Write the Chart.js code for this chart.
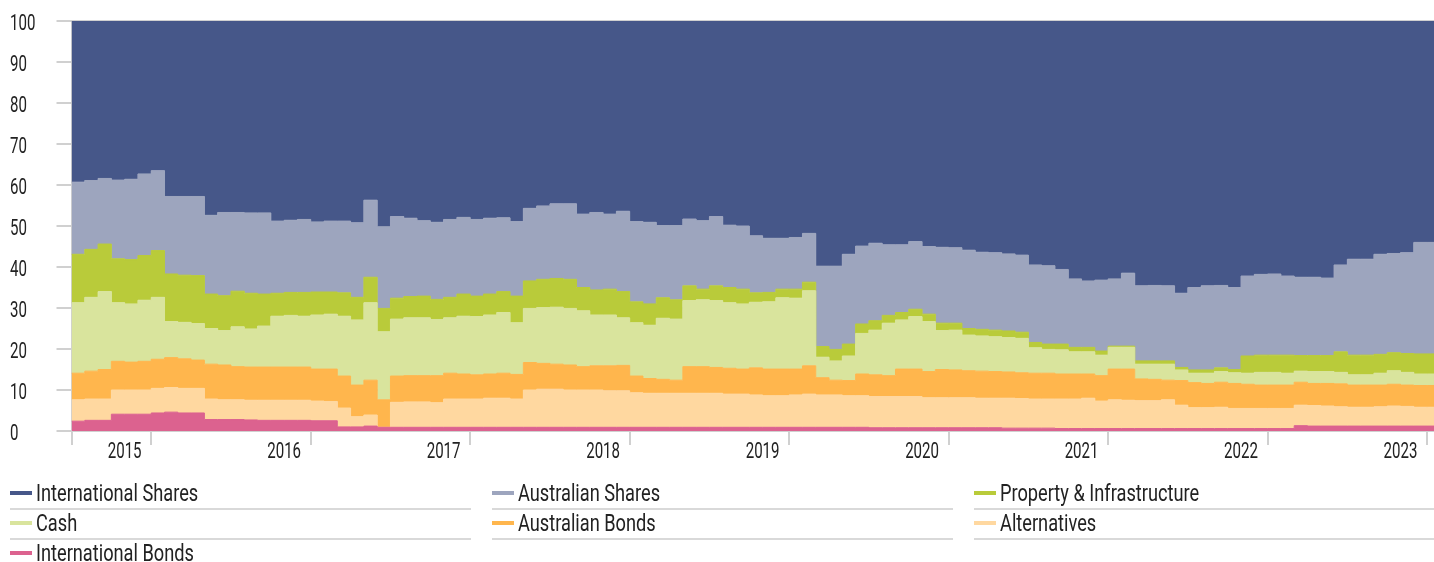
<!DOCTYPE html>
<html>
<head>
<meta charset="utf-8">
<title>Asset allocation over time</title>
<script src="https://cdn.jsdelivr.net/npm/chart.js@4.4.1/dist/chart.umd.min.js"></script>
<style>
  html, body { margin: 0; padding: 0; background: #ffffff; }
  body { width: 1434px; height: 562px; position: relative; overflow: hidden; font-family: Roboto, "Noto Sans", sans-serif; }
  #wrap { position: absolute; left: 0; top: 0; width: 1434px; height: 470px; }
  #legend { position: absolute; left: 0; top: 0; width: 1434px; height: 562px; pointer-events: none; }
  .item { position: absolute; height: 30px; }
  .sw { position: absolute; left: 0; top: 11px; width: 22px; height: 4px; }
  .txt { position: absolute; left: 26px; top: 2px; white-space: nowrap; font-size: 23.5px; line-height: 1; color: #222222;
         transform: scaleX(0.775); transform-origin: 0 0; }
  .rule { position: absolute; left: 0; top: 28px; height: 2px; width: 461px; background: #d9d9d9; }
</style>
</head>
<body>
<div id="wrap"><canvas id="chart" width="1434" height="470"></canvas></div>
<div id="legend"></div>
<script>
// Monthly portfolio weights (%), one value per month, stacked from the bottom up.
const internationalBonds = [
  2.4, 2.6, 2.6, 4.1, 4.1, 4.1, 4.4, 4.6, 4.4, 4.4,
  2.8, 2.8, 2.8, 2.7, 2.6, 2.6, 2.6, 2.6, 2.5, 2.5,
  1.0, 1.0, 1.2, 0.9, 0.9, 0.9, 0.9, 0.9, 0.9, 0.9,
  0.9, 0.9, 0.9, 0.9, 0.9, 0.9, 0.9, 0.9, 0.9, 0.9,
  0.9, 0.9, 0.9, 0.9, 0.9, 0.9, 0.9, 0.9, 0.9, 0.9,
  0.9, 0.9, 0.9, 0.9, 0.9, 0.9, 0.9, 0.9, 0.9, 0.9,
  0.8, 0.8, 0.8, 0.8, 0.8, 0.8, 0.8, 0.8, 0.8, 0.8,
  0.7, 0.7, 0.7, 0.7, 0.6, 0.6, 0.6, 0.6, 0.6, 0.6,
  0.6, 0.6, 0.6, 0.6, 0.6, 0.6, 0.6, 0.6, 0.6, 0.6,
  0.6, 0.6, 1.3, 1.2, 1.2, 1.2, 1.2, 1.2, 1.2, 1.2,
  1.2, 1.2, 1.2
];
const alternatives = [
  5.2, 5.2, 5.2, 5.9, 5.9, 5.9, 6.0, 6.0, 6.0, 6.0,
  5.0, 4.8, 4.8, 4.8, 4.9, 4.9, 4.9, 4.9, 4.8, 4.7,
  4.6, 2.5, 2.7, 0.0, 6.1, 6.2, 6.2, 6.0, 6.9, 6.9,
  6.9, 7.1, 7.1, 6.9, 9.1, 9.3, 9.3, 9.1, 9.1, 9.1,
  8.9, 8.9, 8.4, 8.3, 8.3, 8.3, 8.3, 8.3, 8.3, 8.1,
  8.1, 7.9, 7.7, 7.7, 7.9, 8.1, 7.9, 7.9, 7.7, 7.7,
  7.6, 7.6, 7.6, 7.6, 7.3, 7.3, 7.3, 7.3, 7.2, 7.2,
  7.3, 7.2, 7.1, 7.1, 7.2, 7.2, 7.4, 6.7, 7.0, 6.9,
  6.8, 6.8, 7.0, 5.7, 5.1, 5.1, 5.2, 4.9, 4.9, 4.9,
  4.9, 4.9, 5.0, 5.0, 4.9, 4.7, 4.6, 4.6, 4.7, 4.9,
  4.8, 4.6, 4.6
];
const australianBonds = [
  6.5, 6.8, 7.2, 7.0, 6.8, 7.0, 7.1, 7.3, 7.2, 6.9,
  8.5, 8.5, 8.1, 8.1, 8.1, 8.1, 8.1, 8.1, 7.8, 7.9,
  7.8, 7.7, 8.5, 6.7, 6.4, 6.4, 6.4, 6.6, 6.3, 6.1,
  5.9, 5.9, 6.1, 6.0, 6.7, 6.3, 6.1, 6.1, 5.7, 5.9,
  6.1, 6.2, 4.1, 3.6, 3.4, 3.2, 6.5, 6.5, 6.3, 6.3,
  6.1, 6.6, 6.5, 6.5, 6.3, 6.9, 4.2, 3.6, 3.7, 5.3,
  5.3, 5.1, 6.7, 6.7, 6.4, 6.9, 6.8, 6.6, 6.6, 6.5,
  6.4, 6.3, 6.3, 6.3, 6.1, 6.1, 5.9, 6.2, 7.5, 7.6,
  5.3, 5.2, 4.8, 6.0, 6.1, 5.9, 6.1, 6.1, 5.9, 5.7,
  5.7, 5.7, 5.6, 5.4, 5.5, 5.6, 5.4, 5.4, 5.3, 5.3,
  5.2, 5.3, 5.3
];
const cash = [
  17.2, 18.0, 19.0, 14.3, 14.2, 14.9, 15.1, 8.8, 8.9, 8.9,
  8.7, 8.4, 9.7, 9.3, 10.0, 12.4, 12.6, 12.4, 13.2, 13.4,
  14.6, 15.9, 18.9, 16.6, 13.9, 14.1, 14.1, 13.7, 13.5, 14.1,
  14.2, 14.4, 14.8, 12.6, 13.2, 13.6, 13.9, 13.8, 13.6, 12.4,
  12.4, 11.6, 13.0, 13.0, 14.9, 14.9, 16.1, 16.3, 16.3, 16.0,
  15.9, 16.0, 16.4, 17.4, 17.3, 18.3, 5.0, 4.7, 6.0, 9.9,
  10.9, 12.8, 12.0, 12.8, 12.2, 9.5, 9.7, 8.7, 8.6, 8.5,
  8.4, 8.4, 6.2, 5.8, 5.9, 5.4, 5.4, 5.0, 5.3, 5.3,
  3.6, 3.7, 3.9, 2.6, 2.3, 2.5, 2.6, 2.6, 2.7, 3.1,
  3.1, 2.9, 2.7, 2.9, 2.9, 2.8, 2.5, 2.5, 2.9, 3.3,
  3.1, 2.8, 2.8
];
const propertyInfrastructure = [
  11.8, 11.7, 11.6, 10.7, 10.8, 10.9, 11.4, 11.6, 11.5, 11.7,
  8.4, 8.5, 8.7, 8.7, 7.8, 5.6, 5.6, 5.8, 5.6, 5.4,
  5.7, 5.5, 6.2, 5.7, 5.1, 5.2, 5.3, 4.9, 5.0, 5.4,
  5.0, 5.1, 5.1, 6.5, 6.7, 6.9, 7.0, 7.1, 5.7, 6.1,
  6.3, 6.4, 5.1, 5.2, 5.0, 4.7, 3.6, 2.6, 3.6, 3.7,
  3.6, 2.3, 2.3, 2.1, 2.2, 2.1, 2.6, 2.8, 2.9, 2.3,
  2.3, 1.9, 1.8, 1.8, 1.8, 1.8, 1.7, 1.6, 1.6, 1.6,
  1.6, 1.5, 1.3, 1.3, 1.4, 1.1, 1.1, 1.0, 0.3, 0.3,
  0.8, 0.8, 0.8, 0.6, 0.8, 0.8, 0.9, 0.8, 4.2, 4.2,
  4.2, 4.4, 3.8, 3.9, 3.9, 5.0, 4.8, 4.8, 4.6, 4.4,
  4.6, 4.9, 4.9
];
const australianShares = [
  17.6, 16.8, 16.0, 19.2, 19.6, 19.9, 19.5, 18.9, 19.2, 19.3,
  19.2, 20.3, 19.2, 19.6, 19.8, 17.6, 17.6, 17.8, 17.1, 17.3,
  17.5, 18.2, 18.8, 19.9, 19.9, 19.1, 18.4, 18.8, 19.0, 18.7,
  18.7, 18.5, 18.0, 18.2, 17.7, 17.9, 18.2, 18.4, 17.9, 18.9,
  18.3, 19.6, 19.6, 19.9, 17.6, 18.1, 16.3, 16.7, 16.9, 15.2,
  15.4, 13.9, 13.2, 12.4, 12.6, 11.9, 19.6, 20.3, 21.9, 19.0,
  18.9, 17.2, 16.5, 16.5, 16.5, 18.5, 18.4, 19.1, 18.8, 18.9,
  18.8, 18.8, 18.9, 19.1, 18.2, 16.7, 16.2, 17.3, 16.4, 17.8,
  18.3, 18.4, 18.3, 18.1, 20.1, 20.5, 20.1, 20.0, 19.5, 19.7,
  19.8, 19.3, 19.1, 19.1, 18.9, 21.2, 23.4, 23.4, 24.4, 24.2,
  24.6, 27.2, 27.2
];
const internationalShares = [
  39.3, 38.9, 38.4, 38.8, 38.6, 37.3, 36.5, 42.8, 42.8, 42.8,
  47.4, 46.7, 46.7, 46.8, 46.8, 48.8, 48.6, 48.4, 49.0, 48.8,
  48.8, 49.2, 43.7, 50.2, 47.7, 48.1, 48.7, 49.1, 48.4, 47.9,
  48.4, 48.1, 48.0, 48.9, 45.7, 45.1, 44.6, 44.6, 47.1, 46.7,
  47.1, 46.4, 48.9, 49.1, 49.9, 49.9, 48.3, 48.7, 47.7, 49.8,
  50.0, 52.4, 53.0, 53.0, 52.8, 51.8, 59.8, 59.8, 56.9, 54.9,
  54.2, 54.6, 54.6, 53.8, 55.0, 55.2, 55.3, 55.9, 56.4, 56.5,
  56.8, 57.1, 59.5, 59.7, 60.6, 62.9, 63.4, 63.2, 62.9, 61.5,
  64.6, 64.5, 64.6, 66.4, 65.0, 64.6, 64.5, 65.0, 62.2, 61.8,
  61.7, 62.2, 62.5, 62.5, 62.7, 59.5, 58.1, 58.1, 56.9, 56.7,
  56.5, 54.0, 54.0
];

// Asset class names, bottom of the stack first
const assetNames = [
  'International Bonds', 'Alternatives', 'Australian Bonds', 'Cash',
  'Property & Infrastructure', 'Australian Shares', 'International Shares'
];
const yearLabels = ['2015', '2016', '2017', '2018', '2019', '2020', '2021', '2022', '2023'];
const valueTicks = [0, 10, 20, 30, 40, 50, 60, 70, 80, 90, 100];

// Styling
const palette = ['#dc628f', '#ffd8a0', '#ffb64d', '#d9e49d', '#b9cb3a', '#9da5be', '#465789'];
const GRID = '#d0d0d0';
const TEXT = '#222222';
const TICK_FONT_SIZE = 21.5;
const TICK_SQUEEZE = 0.70;

const seriesValues = [internationalBonds, alternatives, australianBonds, cash,
  propertyInfrastructure, australianShares, internationalShares];

// Month index axis: year boundaries every 12 months, first one six months in
const firstBoundary = 6;
const boundaryTicks = [0];
yearLabels.forEach((_, k) => boundaryTicks.push(firstBoundary + 12 * k));
const labelTicks = yearLabels.map((_, k) => firstBoundary - 2 + 12 * k);
const boundarySet = new Set(boundaryTicks);

const datasets = seriesValues.map((vals, k) => {
  const pts = vals.map((v, i) => ({ x: i, y: v }));
  // close the final month's step
  pts.push({ x: vals.length, y: vals[vals.length - 1] });
  return {
    label: assetNames[k],
    data: pts,
    backgroundColor: palette[k],
    borderColor: palette[k],
    borderWidth: 1,
    fill: k === 0 ? 'origin' : '-1',
    stepped: true,
    tension: 0,
    pointRadius: 0,
    pointHoverRadius: 0
  };
});

function drawSqueezed(ctx, text, px, py, align) {
  ctx.save();
  ctx.translate(px, py);
  ctx.scale(TICK_SQUEEZE, 1);
  ctx.textAlign = align;
  ctx.fillText(text, 0, 0);
  ctx.restore();
}

// Tick labels in a narrow face, positioned from the chart's own scales
const axisText = {
  id: 'axisText',
  afterDraw(chart) {
    const { ctx, scales: { x, y }, chartArea } = chart;
    ctx.save();
    ctx.fillStyle = TEXT;
    ctx.font = TICK_FONT_SIZE + 'px Roboto, "Noto Sans", sans-serif';
    ctx.textBaseline = 'alphabetic';
    y.ticks.forEach(t => {
      drawSqueezed(ctx, String(t.value), 10, y.getPixelForValue(t.value) + 8.5, 'left');
    });
    x.ticks.forEach(t => {
      const k = labelTicks.indexOf(t.value);
      if (k >= 0) drawSqueezed(ctx, yearLabels[k], x.getPixelForValue(t.value), chartArea.bottom + 27, 'center');
    });
    ctx.restore();
  }
};

new Chart(document.getElementById('chart'), {
  type: 'line',
  data: { datasets },
  plugins: [axisText],
  options: {
    responsive: false,
    animation: false,
    events: [],
    layout: { padding: { left: 10, top: 21, right: 0, bottom: 0 } },
    plugins: { legend: { display: false }, tooltip: { enabled: false } },
    scales: {
      x: {
        type: 'linear',
        min: 0,
        max: 102.52,
        z: 1,
        afterBuildTicks: sc => {
          sc.ticks = boundaryTicks.concat(labelTicks).sort((a, b) => a - b).map(v => ({ value: v }));
        },
        afterFit: sc => { sc.height = 39; },
        ticks: { display: false },
        grid: {
          color: c => (c.tick && boundarySet.has(c.tick.value)) ? GRID : 'rgba(0,0,0,0)',
          lineWidth: 2,
          tickLength: 14,
          drawTicks: true
        },
        border: { display: false }
      },
      y: {
        stacked: true,
        min: 0,
        max: 100,
        z: 1,
        afterBuildTicks: sc => { sc.ticks = valueTicks.map(v => ({ value: v })); },
        afterFit: sc => { sc.width = 61.5; },
        ticks: { display: false },
        grid: { color: GRID, lineWidth: 2, tickLength: 15, drawTicks: true },
        border: { display: false }
      }
    }
  }
});

// Legend: three columns, top of the stack first, each entry underlined
const legend = document.getElementById('legend');
assetNames.slice().reverse().forEach((name, idx) => {
  const k = assetNames.indexOf(name);
  const col = idx % 3, row = Math.floor(idx / 3);
  const item = document.createElement('div');
  item.className = 'item';
  item.style.left = (10 + col * 482) + 'px';
  item.style.top = (480 + row * 30) + 'px';
  item.style.width = '461px';
  const sw = document.createElement('div');
  sw.className = 'sw';
  sw.style.background = palette[k];
  const txt = document.createElement('span');
  txt.className = 'txt';
  txt.textContent = name;
  const rule = document.createElement('div');
  rule.className = 'rule';
  item.appendChild(sw);
  item.appendChild(txt);
  item.appendChild(rule);
  legend.appendChild(item);
});
</script>
</body>
</html>
